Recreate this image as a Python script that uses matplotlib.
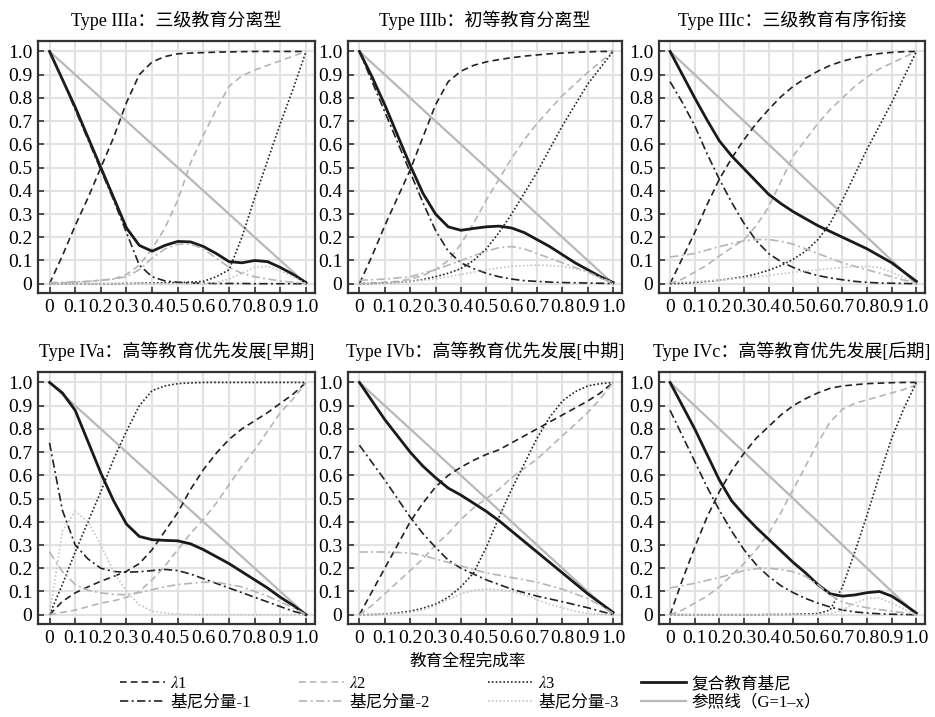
import matplotlib
matplotlib.use('Agg')
import matplotlib.pyplot as plt
from matplotlib.ticker import FixedLocator, FixedFormatter
from matplotlib.lines import Line2D

plt.rcParams['font.family'] = ['Liberation Serif', 'Noto Sans CJK SC']
plt.rcParams['mathtext.fontset'] = 'stix'

# completion rate (x), read every 0.05
x_pts = [0.0, 0.05, 0.1, 0.15, 0.2, 0.25, 0.3, 0.35, 0.4, 0.45, 0.5,
         0.55, 0.6, 0.65, 0.7, 0.75, 0.8, 0.85, 0.9, 0.95, 1.0]
tick_vals = [0, 0.1, 0.2, 0.3, 0.4, 0.5, 0.6, 0.7, 0.8, 0.9, 1.0]
tick_labels = ['0', '0.1', '0.2', '0.3', '0.4', '0.5', '0.6', '0.7', '0.8', '0.9', '1.0']
ref_x = [0, 1]
ref_y = [1, 0]

titles = ['Type IIIa：三级教育分离型', 'Type IIIb：初等教育分离型', 'Type IIIc：三级教育有序衔接',
          'Type IVa：高等教育优先发展[早期]', 'Type IVb：高等教育优先发展[中期]',
          'Type IVc：高等教育优先发展[后期]']

# Type IIIa
iiia_lam1 = [0, 0.12, 0.25, 0.37, 0.5, 0.63, 0.78, 0.9, 0.955, 0.978, 0.99, 0.993, 0.995, 0.997, 0.998, 0.999, 1, 1, 1, 1, 1]
iiia_lam2 = [0, 0.003, 0.006, 0.01, 0.015, 0.02, 0.04, 0.08, 0.15, 0.24, 0.36, 0.52, 0.64, 0.75, 0.85, 0.895, 0.92, 0.94, 0.96, 0.98, 1.0]
iiia_lam3 = [0, 0, 0, 0, 0, 0, 0.001, 0.002, 0.003, 0.004, 0.005, 0.007, 0.01, 0.03, 0.06, 0.2, 0.37, 0.53, 0.69, 0.84, 1.0]
iiia_comp = [1, 0.88, 0.76, 0.63, 0.5, 0.37, 0.24, 0.165, 0.14, 0.165, 0.182, 0.18, 0.16, 0.13, 0.095, 0.09, 0.1, 0.095, 0.07, 0.04, 0.005]
iiia_g1 = [1, 0.88, 0.75, 0.62, 0.49, 0.36, 0.22, 0.08, 0.03, 0.012, 0.006, 0.003, 0.002, 0.001, 0.001, 0.001, 0, 0, 0, 0, 0]
iiia_g2 = [0.005, 0.006, 0.008, 0.01, 0.015, 0.02, 0.03, 0.06, 0.11, 0.15, 0.17, 0.17, 0.15, 0.11, 0.07, 0.045, 0.03, 0.02, 0.012, 0.006, 0]
iiia_g3 = [0, 0, 0, 0, 0, 0, 0, 0, 0, 0, 0, 0, 0.001, 0.005, 0.02, 0.045, 0.07, 0.075, 0.055, 0.03, 0]

# Type IIIb
iiib_lam1 = [0, 0.12, 0.25, 0.37, 0.49, 0.63, 0.77, 0.87, 0.915, 0.94, 0.955, 0.965, 0.973, 0.98, 0.985, 0.99, 0.993, 0.996, 0.998, 1.0, 1.0]
iiib_lam2 = [0, 0.003, 0.006, 0.01, 0.02, 0.035, 0.06, 0.1, 0.17, 0.26, 0.36, 0.45, 0.54, 0.62, 0.69, 0.75, 0.81, 0.86, 0.91, 0.955, 1.0]
iiib_lam3 = [0, 0.001, 0.003, 0.006, 0.01, 0.018, 0.03, 0.045, 0.065, 0.1, 0.15, 0.22, 0.3, 0.39, 0.48, 0.58, 0.68, 0.77, 0.86, 0.93, 1.0]
iiib_comp = [1, 0.89, 0.77, 0.64, 0.51, 0.39, 0.3, 0.245, 0.23, 0.238, 0.245, 0.248, 0.24, 0.22, 0.19, 0.16, 0.125, 0.09, 0.06, 0.03, 0.005]
iiib_g1 = [1, 0.87, 0.74, 0.61, 0.48, 0.35, 0.23, 0.14, 0.09, 0.065, 0.045, 0.03, 0.02, 0.013, 0.01, 0.007, 0.005, 0.004, 0.003, 0.002, 0]
iiib_g2 = [0.015, 0.017, 0.02, 0.025, 0.03, 0.045, 0.06, 0.08, 0.1, 0.12, 0.14, 0.155, 0.16, 0.15, 0.13, 0.11, 0.09, 0.07, 0.05, 0.025, 0.005]
iiib_g3 = [0, 0.001, 0.003, 0.006, 0.01, 0.015, 0.02, 0.03, 0.04, 0.05, 0.06, 0.068, 0.075, 0.078, 0.08, 0.078, 0.075, 0.065, 0.05, 0.025, 0]

# Type IIIc
iiic_lam1 = [0, 0.11, 0.22, 0.34, 0.45, 0.54, 0.62, 0.69, 0.75, 0.805, 0.85, 0.885, 0.915, 0.94, 0.958, 0.972, 0.983, 0.991, 0.996, 0.999, 1]
iiic_lam2 = [0, 0.02, 0.05, 0.08, 0.12, 0.155, 0.19, 0.25, 0.33, 0.44, 0.55, 0.62, 0.69, 0.75, 0.8, 0.85, 0.89, 0.925, 0.95, 0.975, 1.0]
iiic_lam3 = [0, 0.002, 0.005, 0.01, 0.015, 0.022, 0.03, 0.042, 0.058, 0.078, 0.105, 0.14, 0.19, 0.26, 0.36, 0.47, 0.58, 0.68, 0.78, 0.89, 1.0]
iiic_comp = [1, 0.9, 0.8, 0.705, 0.615, 0.55, 0.495, 0.44, 0.385, 0.345, 0.31, 0.28, 0.25, 0.225, 0.2, 0.175, 0.15, 0.12, 0.09, 0.05, 0.01]
iiic_g1 = [0.87, 0.78, 0.68, 0.56, 0.45, 0.35, 0.26, 0.185, 0.13, 0.095, 0.07, 0.05, 0.035, 0.025, 0.017, 0.01, 0.006, 0.003, 0.002, 0.001, 0]
iiic_g2 = [0.115, 0.122, 0.13, 0.145, 0.16, 0.172, 0.185, 0.19, 0.19, 0.183, 0.17, 0.15, 0.13, 0.11, 0.09, 0.075, 0.06, 0.045, 0.03, 0.015, 0.005]
iiic_g3 = [0.005, 0.007, 0.009, 0.012, 0.015, 0.02, 0.025, 0.03, 0.035, 0.042, 0.05, 0.055, 0.06, 0.065, 0.07, 0.073, 0.075, 0.07, 0.05, 0.025, 0]

# Type IVa
iva_lam1 = [0, 0.057, 0.094, 0.12, 0.144, 0.165, 0.187, 0.22, 0.28, 0.36, 0.44, 0.54, 0.625, 0.695, 0.755, 0.8, 0.835, 0.87, 0.91, 0.95, 1.0]
iva_lam2 = [0, 0.01, 0.02, 0.035, 0.05, 0.06, 0.075, 0.1, 0.15, 0.21, 0.28, 0.35, 0.41, 0.48, 0.56, 0.64, 0.71, 0.79, 0.87, 0.93, 1.0]
iva_lam3 = [0, 0.13, 0.27, 0.4, 0.53, 0.67, 0.79, 0.9, 0.965, 0.985, 0.995, 0.998, 1, 1, 1, 1, 1, 1, 1, 1, 1]
iva_comp = [1, 0.955, 0.88, 0.745, 0.61, 0.49, 0.39, 0.337, 0.323, 0.32, 0.318, 0.305, 0.28, 0.25, 0.22, 0.185, 0.15, 0.115, 0.075, 0.04, 0]
iva_g1 = [0.74, 0.45, 0.3, 0.24, 0.2, 0.186, 0.183, 0.185, 0.19, 0.195, 0.19, 0.175, 0.155, 0.135, 0.115, 0.095, 0.075, 0.055, 0.035, 0.015, 0]
iva_g2 = [0.27, 0.186, 0.13, 0.105, 0.094, 0.088, 0.086, 0.095, 0.108, 0.12, 0.13, 0.135, 0.14, 0.14, 0.13, 0.12, 0.1, 0.08, 0.055, 0.03, 0]
iva_g3 = [0, 0.36, 0.445, 0.4, 0.3, 0.185, 0.1, 0.043, 0.015, 0.007, 0.002, 0.001, 0, 0, 0, 0, 0, 0, 0, 0, 0]

# Type IVb
ivb_lam1 = [0, 0.1, 0.2, 0.3, 0.4, 0.48, 0.55, 0.6, 0.635, 0.665, 0.69, 0.71, 0.74, 0.77, 0.8, 0.83, 0.86, 0.89, 0.92, 0.955, 1.0]
ivb_lam2 = [0, 0.04, 0.09, 0.14, 0.19, 0.24, 0.3, 0.35, 0.41, 0.46, 0.5, 0.54, 0.59, 0.63, 0.67, 0.72, 0.77, 0.82, 0.87, 0.93, 1.0]
ivb_lam3 = [0, 0.001, 0.003, 0.008, 0.015, 0.028, 0.045, 0.075, 0.12, 0.18, 0.29, 0.42, 0.54, 0.65, 0.76, 0.85, 0.92, 0.96, 0.985, 0.995, 1.0]
ivb_comp = [1, 0.92, 0.84, 0.77, 0.7, 0.64, 0.59, 0.545, 0.515, 0.48, 0.445, 0.405, 0.36, 0.315, 0.27, 0.225, 0.18, 0.135, 0.09, 0.05, 0.01]
ivb_g1 = [0.73, 0.655, 0.58, 0.5, 0.42, 0.35, 0.29, 0.235, 0.2, 0.175, 0.15, 0.13, 0.11, 0.095, 0.08, 0.068, 0.056, 0.043, 0.03, 0.015, 0]
ivb_g2 = [0.27, 0.27, 0.27, 0.268, 0.265, 0.255, 0.24, 0.225, 0.21, 0.195, 0.18, 0.17, 0.16, 0.15, 0.14, 0.125, 0.11, 0.09, 0.07, 0.04, 0.005]
ivb_g3 = [0, 0.001, 0.002, 0.005, 0.01, 0.02, 0.04, 0.065, 0.09, 0.105, 0.11, 0.108, 0.1, 0.085, 0.065, 0.045, 0.03, 0.015, 0.005, 0.002, 0]

# Type IVc
ivc_lam1 = [0, 0.15, 0.29, 0.42, 0.53, 0.62, 0.695, 0.76, 0.81, 0.86, 0.9, 0.93, 0.955, 0.975, 0.985, 0.99, 0.995, 0.997, 0.999, 1, 1]
ivc_lam2 = [0, 0.02, 0.05, 0.08, 0.12, 0.17, 0.22, 0.28, 0.35, 0.44, 0.54, 0.64, 0.74, 0.83, 0.885, 0.91, 0.925, 0.94, 0.955, 0.97, 0.99]
ivc_lam3 = [0, 0, 0, 0, 0, 0, 0, 0, 0.001, 0.001, 0.002, 0.003, 0.005, 0.02, 0.12, 0.27, 0.43, 0.6, 0.76, 0.89, 1.0]
ivc_comp = [1, 0.9, 0.8, 0.69, 0.58, 0.49, 0.43, 0.375, 0.325, 0.275, 0.225, 0.18, 0.13, 0.09, 0.08, 0.085, 0.095, 0.1, 0.08, 0.045, 0.007]
ivc_g1 = [0.88, 0.77, 0.66, 0.55, 0.45, 0.36, 0.28, 0.215, 0.165, 0.125, 0.095, 0.07, 0.05, 0.033, 0.02, 0.012, 0.007, 0.004, 0.002, 0.001, 0]
ivc_g2 = [0.115, 0.125, 0.135, 0.148, 0.16, 0.175, 0.19, 0.198, 0.2, 0.195, 0.185, 0.165, 0.13, 0.085, 0.055, 0.04, 0.03, 0.022, 0.015, 0.008, 0]
ivc_g3 = [0, 0, 0, 0, 0, 0, 0, 0, 0, 0, 0, 0, 0.001, 0.003, 0.02, 0.05, 0.07, 0.072, 0.05, 0.025, 0]

panels = [
    (iiia_lam1, iiia_lam2, iiia_lam3, iiia_comp, iiia_g1, iiia_g2, iiia_g3),
    (iiib_lam1, iiib_lam2, iiib_lam3, iiib_comp, iiib_g1, iiib_g2, iiib_g3),
    (iiic_lam1, iiic_lam2, iiic_lam3, iiic_comp, iiic_g1, iiic_g2, iiic_g3),
    (iva_lam1, iva_lam2, iva_lam3, iva_comp, iva_g1, iva_g2, iva_g3),
    (ivb_lam1, ivb_lam2, ivb_lam3, ivb_comp, ivb_g1, ivb_g2, ivb_g3),
    (ivc_lam1, ivc_lam2, ivc_lam3, ivc_comp, ivc_g1, ivc_g2, ivc_g3),
]

# line styles, same order as a panel tuple
styles = [
    dict(color='#222222', lw=1.2, ls=(0, (4, 2.5))),          # lambda1
    dict(color='#b5b5b5', lw=1.2, ls=(0, (4, 2.5))),          # lambda2
    dict(color='#222222', lw=1.2, ls=(0, (1, 1.3))),          # lambda3
    dict(color='#1a1a1a', lw=2.0, ls='-'),                    # composite
    dict(color='#222222', lw=1.2, ls=(0, (5, 2, 1.2, 2))),    # component 1
    dict(color='#b5b5b5', lw=1.2, ls=(0, (5, 2, 1.2, 2))),    # component 2
    dict(color='#c4c4c4', lw=1.2, ls=(0, (1, 1.3))),          # component 3
]
ref_style = dict(color='#b8b8b8', lw=1.6, ls='-')
labels = [r'$\lambda$1', r'$\lambda$2', r'$\lambda$3', '复合教育基尼',
          '基尼分量-1', '基尼分量-2', '基尼分量-3', '参照线（G=1–x）']

fig = plt.figure(figsize=(9.35, 7.17), dpi=100)

lefts = [38, 348, 659]
widths = [277, 274, 266]
tops = [41, 372]
H = 252

for i, series in enumerate(panels):
    r, c = divmod(i, 3)
    ax = fig.add_axes([lefts[c] / 935, 1 - (tops[r] + H) / 717, widths[c] / 935, H / 717])
    ax.plot(ref_x, ref_y, **ref_style, zorder=2)
    for ys, st in zip(series, styles):
        ax.plot(x_pts, ys, zorder=3, **st)
    ax.set_xlim(-0.045, 1.035)
    ax.set_ylim(-0.04, 1.045)
    ax.xaxis.set_major_locator(FixedLocator(tick_vals))
    ax.xaxis.set_major_formatter(FixedFormatter(tick_labels))
    ax.yaxis.set_major_locator(FixedLocator(tick_vals))
    ax.yaxis.set_major_formatter(FixedFormatter(tick_labels))
    ax.grid(color='#e2e2e2', lw=1.5, zorder=0)
    ax.set_axisbelow(True)
    ax.tick_params(direction='in', length=4, width=1.2, color='#333333',
                   labelsize=14, pad=4)
    for sp in ax.spines.values():
        sp.set_color('#333333')
        sp.set_linewidth(1.6)
    ax.set_title(titles[i], fontsize=13, pad=11)

fig.text(468 / 935, 1 - 662 / 717, '教育全程完成率', ha='center', va='center', fontsize=12)

# legend: four columns placed by hand
handles = [Line2D([], [], **st) for st in styles] + [Line2D([], [], **ref_style)]
cols = [(120, [0, 4]), (299, [1, 5]), (488, [2, 6]), (641, [3, 7])]
for x0, idx in cols:
    fig.legend([handles[k] for k in idx], [labels[k] for k in idx],
               loc='upper left', bbox_to_anchor=(x0 / 935, 1 - 676 / 717),
               frameon=False, fontsize=12, ncol=1, handlelength=2.7,
               handletextpad=0.3, labelspacing=0.15, borderpad=0, borderaxespad=0)

fig.savefig('out.png', dpi=100)
